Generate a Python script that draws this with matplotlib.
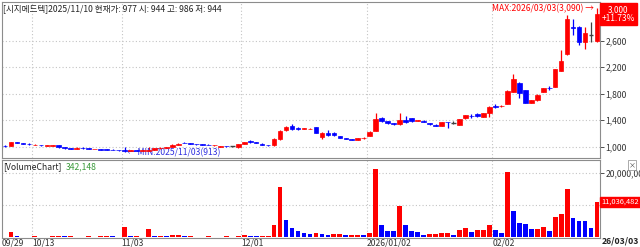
import matplotlib
matplotlib.use("Agg")
import matplotlib.pyplot as plt
import matplotlib.transforms as mtransforms
import numpy as np
import pandas as pd

plt.rcParams['font.family'] = ['Noto Sans CJK KR', 'DejaVu Sans']

name = '시지메드텍'

# trading days (KRX), 2025-09-29 .. 2026-03-03
holidays = ['2025-10-03', '2025-10-06', '2025-10-07', '2025-10-08', '2025-10-09',
            '2025-12-25', '2025-12-31', '2026-01-01',
            '2026-02-16', '2026-02-17', '2026-02-18', '2026-03-02']
dates = [d for d in pd.bdate_range('2025-09-29', '2026-03-03')
         if d.strftime('%Y-%m-%d') not in holidays]

opens = [1015, 1010, 1065, 1055, 1045, 1025, 1030, 1015, 1015, 1025,
         990, 975, 965, 985, 975, 962, 965, 958, 955, 950,
         955, 940, 945, 940, 935, 944, 975, 985, 1000, 1030,
         1060, 1055, 1042, 1035, 1030, 1020, 1000, 1010, 1005, 990,
         1040, 1085, 1065, 1045, 1028, 1020, 1115, 1245, 1310, 1275,
         1265, 1268, 1290, 1150, 1205, 1210, 1160, 1125, 1110, 1105,
         1128, 1165, 1235, 1430, 1385, 1355, 1340, 1410, 1430, 1395,
         1392, 1352, 1330, 1310, 1375, 1365, 1325, 1430, 1465, 1500,
         1455, 1510, 1612, 1608, 1645, 1830, 1955, 1855, 1665, 1700,
         1830, 1890, 1900, 2150, 2400, 2810, 2800, 2585, 2685, 2600]
highs = [1020, 1075, 1070, 1060, 1048, 1035, 1032, 1025, 1022, 1030,
         995, 980, 990, 988, 978, 970, 968, 960, 958, 955,
         990, 950, 955, 950, 990, 986, 990, 1000, 1035, 1050,
         1068, 1058, 1045, 1038, 1033, 1028, 1010, 1015, 1010, 1040,
         1075, 1095, 1068, 1050, 1032, 1125, 1245, 1310, 1340, 1290,
         1285, 1280, 1295, 1215, 1245, 1220, 1165, 1130, 1112, 1130,
         1150, 1230, 1505, 1450, 1390, 1360, 1505, 1460, 1435, 1410,
         1398, 1358, 1335, 1375, 1380, 1385, 1425, 1480, 1490, 1505,
         1515, 1610, 1640, 1625, 1850, 2100, 1975, 1860, 1710, 1790,
         1885, 1915, 2175, 2460, 2990, 2925, 2820, 2810, 2890, 3090]
lows = [1000, 1005, 1050, 1040, 1030, 1020, 1015, 1012, 1010, 985,
        972, 962, 960, 970, 962, 958, 950, 948, 945, 940,
        913, 930, 935, 932, 930, 944, 968, 980, 995, 1025,
        1050, 1042, 1030, 1025, 1022, 1015, 995, 1000, 1000, 985,
        1035, 1060, 1050, 1020, 1015, 1015, 1105, 1240, 1250, 1255,
        1260, 1262, 1200, 1110, 1165, 1168, 1130, 1110, 1098, 1100,
        1122, 1160, 1230, 1375, 1350, 1330, 1330, 1360, 1380, 1392,
        1368, 1330, 1308, 1305, 1280, 1350, 1320, 1425, 1440, 1450,
        1445, 1450, 1580, 1600, 1640, 1820, 1730, 1660, 1655, 1690,
        1825, 1860, 1895, 2140, 2390, 2680, 2535, 2470, 2585, 2585]
closes = [1005, 1065, 1058, 1045, 1033, 1030, 1018, 1020, 1018, 990,
          975, 966, 985, 975, 965, 966, 955, 952, 948, 945,
          935, 945, 940, 945, 948, 977, 985, 995, 1028, 1045,
          1055, 1045, 1033, 1028, 1026, 1024, 1006, 1004, 1005, 1035,
          1068, 1065, 1055, 1025, 1020, 1115, 1240, 1300, 1260, 1268,
          1275, 1272, 1205, 1205, 1170, 1172, 1135, 1115, 1102, 1125,
          1138, 1225, 1420, 1385, 1358, 1338, 1400, 1370, 1385, 1405,
          1372, 1335, 1312, 1368, 1366, 1365, 1415, 1475, 1458, 1458,
          1505, 1600, 1605, 1620, 1845, 2020, 1815, 1665, 1705, 1780,
          1880, 1885, 2170, 2295, 2925, 2790, 2585, 2710, 2685, 3000]
volumes = [200000, 1550000, 450000, 150000, 120000, 300000, 250000, 150000, 300000, 350000,
           300000, 400000, 200000, 150000, 300000, 200000, 350000, 500000, 300000, 100000,
           3200000, 300000, 400000, 100000, 2500000, 342148, 500000, 350000, 650000, 700000,
           400000, 450000, 200000, 150000, 400000, 200000, 150000, 350000, 200000, 500000,
           750000, 550000, 300000, 450000, 500000, 3800000, 15700000, 5400000, 3000000, 2100000,
           1400000, 900000, 1200000, 1000000, 850000, 1100000, 1150000, 650000, 850000, 880000,
           600000, 1400000, 21100000, 3800000, 2000000, 1980000, 9800000, 3800000, 2100000, 1800000,
           850000, 1050000, 1080000, 1200000, 1220000, 850000, 2200000, 2900000, 1600000, 2200000,
           2250000, 3700000, 2400000, 1300000, 20200000, 8300000, 4500000, 4000000, 2600000, 2700000,
           3350000, 1900000, 6400000, 7250000, 14900000, 6100000, 5000000, 4950000, 3000000, 11036482]

tick_dates = ['2025-09-29', '2025-10-13', '2025-11-03', '2025-12-01', '2026-01-02', '2026-02-02']
tick_labels = ['09/29', '10/13', '11/03', '12/01', '2026/01/02', '02/02']
price_ticks = [1000, 1400, 1800, 2200, 2600]
volume_ticks = [10000000, 20000000]
cursor_day = '2025-11-10'

RED = '#ff0000'
BLUE = '#0000ff'
GRID = '#c4c4c4'
FRAME = '#8c8c8c'

W, H = 640, 247
fig = plt.figure(figsize=(W / 100, H / 100), dpi=100)
fig.patch.set_facecolor('white')


def px(x0, y0, x1, y1):
    return [x0 / W, 1 - y1 / H, (x1 - x0) / W, (y1 - y0) / H]


ax = fig.add_axes(px(2, 2, 600, 158))
axv = fig.add_axes(px(2, 160, 600, 238))

n = len(closes)
idx = np.arange(n)
date_str = [d.strftime('%Y-%m-%d') for d in dates]
tick_pos = [date_str.index(d) - 0.5 for d in tick_dates]

# candles
for i in idx:
    o, h, l, c = opens[i], highs[i], lows[i], closes[i]
    if c > o:
        col = RED
    elif c < o:
        col = BLUE
    else:
        col = '#404040'
    ax.vlines(i, l, h, color=col, lw=0.9, zorder=3)
    if c == o:
        ax.hlines(c, i - 0.4, i + 0.4, color=col, lw=1.0, zorder=4)
    else:
        ax.bar(i, abs(c - o), bottom=min(o, c), width=0.78, color=col,
               edgecolor=col, lw=0.5, zorder=4)

ax.set_xlim(-0.5, n - 0.5)
ax.set_ylim(829, 3185)

# volume bars, red when volume rises vs previous day
vcols = [BLUE] + [RED if volumes[i] > volumes[i - 1] else BLUE for i in range(1, n)]
axv.bar(idx, volumes, width=0.8, color=vcols, zorder=3)
axv.set_xlim(-0.5, n - 0.5)
axv.set_ylim(-200000, 24040000)

for a in (ax, axv):
    for x in tick_pos[1:]:
        a.axvline(x, color=GRID, lw=0.8, ls=(0, (1, 2)), zorder=1)
    for s in a.spines.values():
        s.set_color(FRAME)
        s.set_linewidth(0.8)
    a.yaxis.tick_right()
    a.tick_params(axis='y', length=3, width=0.6, pad=1, labelsize=6.2, colors='#333333')

for p in price_ticks:
    ax.axhline(p, color=GRID, lw=0.8, ls=(0, (1, 2)), zorder=1)
ax.set_yticks(price_ticks)
ax.set_yticklabels([f'{p:,}' for p in price_ticks])
ax.set_xticks([])

for v in volume_ticks:
    axv.axhline(v, color=GRID, lw=0.8, ls=(0, (1, 2)), zorder=1)
axv.set_yticks(volume_ticks)
# the 10M label sits under the current-volume box, only 20M shows
axv.set_yticklabels([''] + [f'{v:,}' for v in volume_ticks[1:]])
axv.set_xticks(tick_pos)
axv.set_xticklabels(tick_labels, ha='left')
axv.tick_params(axis='x', length=0, pad=0.5, labelsize=6.2, colors='#333333')

# header text for the cursor day
k = date_str.index(cursor_day)
head = (f'[{name}]{dates[k].strftime("%Y/%m/%d")} 현재가: {closes[k]:,} '
        f'시: {opens[k]:,} 고: {highs[k]:,} 저: {lows[k]:,}')
ax.text(0.002, 0.985, head, transform=ax.transAxes, fontsize=6.2,
        va='top', ha='left', color='#222222')

axv.text(0.002, 0.97, '[VolumeChart]', transform=axv.transAxes, fontsize=6.2,
         va='top', ha='left', color='#222222')
axv.text(0.107, 0.97, f'{volumes[k]:,}', transform=axv.transAxes, fontsize=6.2,
         va='top', ha='left', color='#3a9a3a')

# max / min markers
imax = int(np.argmax(highs))
imin = int(np.argmin(lows))
ax.text(imax - 0.6, highs[imax], f'MAX:{dates[imax].strftime("%Y/%m/%d")}({highs[imax]:,}) →',
        fontsize=6.2, color=RED, ha='right', va='center')
ax.text(imin + 0.4, lows[imin], f'← MIN:{dates[imin].strftime("%Y/%m/%d")}({lows[imin]:,})',
        fontsize=6.2, color='#3030e0', ha='left', va='center')

# current price / volume boxes on the right axis
pct = (closes[-1] / closes[-2] - 1) * 100
tp = mtransforms.blended_transform_factory(ax.transAxes, ax.transData)
ax.text(1.003, closes[-1], f'{closes[-1]:,}\n+{pct:.2f}%', transform=tp, fontsize=6,
        color='white', ha='left', va='center', linespacing=1.0, multialignment='center',
        bbox=dict(boxstyle='square,pad=0.25', fc=RED, ec=RED), clip_on=False, zorder=6)
tv = mtransforms.blended_transform_factory(axv.transAxes, axv.transData)
axv.text(1.002, volumes[-1], f'{volumes[-1]:,}', transform=tv, fontsize=5.4,
         color='white', ha='left', va='center',
         bbox=dict(boxstyle='square,pad=0.15', fc=RED, ec=RED), clip_on=False, zorder=6)

fig.text(602 / W, 1 - 241 / H, dates[-1].strftime('%y/%m/%d'), fontsize=6.2,
         fontweight='bold', ha='left', va='center', color='#222222')
fig.text(632 / W, 1 - 165 / H, '×', fontsize=5, ha='center', va='center', color='#444444',
         bbox=dict(boxstyle='square,pad=0.1', fc='white', ec='#888888', lw=0.5))

fig.savefig('out.png', dpi=100)
